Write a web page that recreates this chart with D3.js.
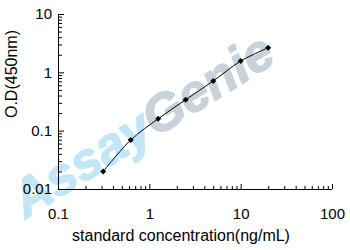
<!DOCTYPE html>
<html>
<head>
<meta charset="utf-8">
<script src="https://cdn.jsdelivr.net/npm/d3@7"></script>
<style>
  body { margin: 0; background: #fff; }
  text { font-family: "Liberation Sans", Arial, sans-serif; }
</style>
</head>
<body>
<div id="chart"></div>
<script>
// standard curve data
var concentrations = [0.3125, 0.625, 1.25, 2.5, 5, 10, 20];
var odValues = [0.020, 0.069, 0.160, 0.340, 0.71, 1.56, 2.64];
var xTickLabels = [0.1, 1, 10, 100];
var yTickLabels = [0.01, 0.1, 1, 10];
var xTitle = "standard concentration(ng/mL)";
var yTitle = "O.D(450nm)";

var width = 350;
var height = 250;
var plotLeft = 58, plotRight = 332, plotTop = 14, plotBottom = 189;

var svg = d3.select("#chart")
    .append("svg")
    .attr("width", width)
    .attr("height", height);

var x = d3.scaleLog()
    .domain([0.1, 100])
    .range([plotLeft, plotRight]);

var y = d3.scaleLog()
    .domain([0.01, 10])
    .range([plotBottom, plotTop]);

// minor ticks: 2..9 of every decade
function minors(lo, hi) {
  var out = [];
  for (var d = lo; d < hi * 0.99; d *= 10) {
    for (var k = 2; k <= 9; k++) out.push(d * k);
  }
  return out;
}

// watermark behind everything
var wm = svg.append("text")
    .attr("transform", "translate(152,140) rotate(-32)")
    .attr("text-anchor", "middle")
    .style("font-size", "52px")
    .style("font-weight", "bold")
    .style("font-style", "italic")
    .style("stroke-width", "1.5px")
    .style("stroke-linejoin", "round");
wm.append("tspan").attr("fill", "#c3e6f7").attr("stroke", "#c3e6f7").text("Assay");
wm.append("tspan").attr("fill", "#c9d2db").attr("stroke", "#c9d2db").text("Genie");

// x axis
svg.append("g")
    .attr("transform", "translate(0," + plotBottom + ")")
    .call(d3.axisBottom(x).tickValues(minors(0.1, 100)).tickSize(-3).tickFormat(""))
    .call(function(g) { g.select(".domain").remove(); });

svg.append("g")
    .attr("transform", "translate(0," + plotBottom + ")")
    .call(d3.axisBottom(x).tickValues(xTickLabels).tickSize(-5).tickPadding(19).tickFormat(d3.format("")))
    .call(function(g) {
      g.select(".domain").attr("d", "M" + plotLeft + ",0.5H" + plotRight);
      g.selectAll("text").style("font-size", "15px").attr("fill", "#000");
    });

svg.append("text")
    .attr("x", 181)
    .attr("y", 241)
    .attr("text-anchor", "middle")
    .style("font-size", "16px")
    .text(xTitle);

// y axis
svg.append("g")
    .attr("transform", "translate(" + plotLeft + ",0)")
    .call(d3.axisLeft(y).tickValues(minors(0.01, 10)).tickSize(-4).tickFormat(""))
    .call(function(g) { g.select(".domain").remove(); });

svg.append("g")
    .attr("transform", "translate(" + plotLeft + ",0)")
    .call(d3.axisLeft(y).tickValues(yTickLabels).tickSize(-6).tickPadding(6).tickFormat(d3.format("")))
    .call(function(g) {
      g.select(".domain").attr("d", "M0.5," + plotTop + "V" + plotBottom);
      g.selectAll("text").style("font-size", "15px").attr("fill", "#000");
    });

svg.append("text")
    .attr("transform", "translate(17,74) rotate(-90)")
    .attr("text-anchor", "middle")
    .style("font-size", "16px")
    .text(yTitle);

// curve + points
var pts = concentrations.map(function(c, i) { return [x(c), y(odValues[i])]; });

svg.append("path")
    .datum(pts)
    .attr("fill", "none")
    .attr("stroke", "#000")
    .attr("stroke-width", 1)
    .attr("d", d3.line().curve(d3.curveCatmullRom));

svg.selectAll(".pt")
    .data(pts)
    .enter()
    .append("path")
    .attr("class", "pt")
    .attr("transform", function(d) { return "translate(" + d[0] + "," + d[1] + ")"; })
    .attr("d", "M0,-3L3,0L0,3L-3,0Z")
    .attr("fill", "#000");
</script>
</body>
</html>
